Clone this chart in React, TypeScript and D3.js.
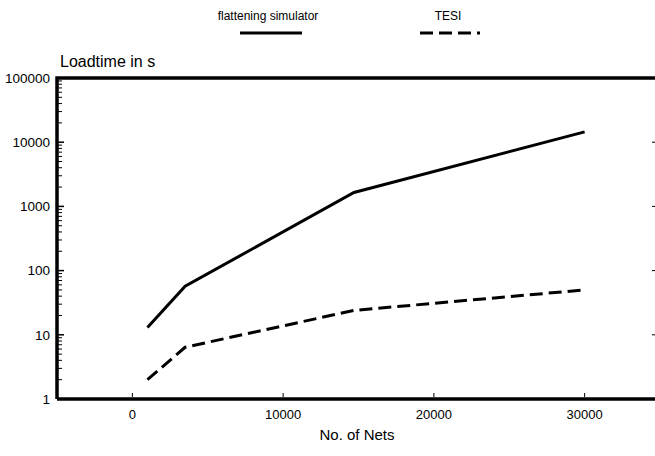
import React, { useEffect, useRef } from "react";
import * as d3 from "d3";

// No. of Nets (x) for both series
const nets = [1000, 3500, 14700, 30000];
// Loadtime in s
const flattening = [13, 57, 1650, 14500];
const tesi = [2, 6.4, 24, 50];

const xTicks = [0, 10000, 20000, 30000];
const yTicks = [1, 10, 100, 1000, 10000, 100000];

const seriesNames = ["flattening simulator", "TESI"];

export default function App() {
  const ref = useRef<SVGSVGElement>(null);

  useEffect(() => {
    const svg = d3.select(ref.current);
    svg.selectAll("*").remove();

    const font = "'Liberation Sans', Arial, sans-serif";

    const x = d3.scaleLinear().domain([-5000, 35000]).range([57, 660]);
    const y = d3.scaleLog().domain([1, 100000]).range([399, 78]);

    // minor log ticks on the left axis (pointing inward)
    const minor: number[] = [];
    for (let d = 1; d < 100000; d *= 10) {
      for (let k = 2; k <= 9; k++) minor.push(d * k);
    }
    svg
      .append("g")
      .selectAll("line")
      .data(minor)
      .enter()
      .append("line")
      .attr("x1", x(-5000))
      .attr("x2", x(-5000) + 5)
      .attr("y1", d => y(d))
      .attr("y2", d => y(d))
      .attr("stroke", "#000")
      .attr("stroke-width", 1);

    svg
      .append("g")
      .selectAll("line")
      .data(yTicks)
      .enter()
      .append("line")
      .attr("x1", x(-5000))
      .attr("x2", x(-5000) + 7)
      .attr("y1", d => y(d))
      .attr("y2", d => y(d))
      .attr("stroke", "#000")
      .attr("stroke-width", 1.5);

    // right side decade ticks (edge of the frame)
    svg
      .append("g")
      .selectAll("line")
      .data(yTicks.slice(1, 5))
      .enter()
      .append("line")
      .attr("x1", 652)
      .attr("x2", 656)
      .attr("y1", d => y(d))
      .attr("y2", d => y(d))
      .attr("stroke", "#000")
      .attr("stroke-width", 1);

    // y tick labels
    svg
      .append("g")
      .selectAll("text")
      .data(yTicks)
      .enter()
      .append("text")
      .attr("x", 50)
      .attr("y", d => y(d))
      .attr("dy", "0.35em")
      .attr("text-anchor", "end")
      .attr("font-family", font)
      .attr("font-size", 13.5)
      .text(d => String(d));

    // x ticks (small, inward)
    svg
      .append("g")
      .selectAll("line")
      .data(xTicks)
      .enter()
      .append("line")
      .attr("x1", d => x(d))
      .attr("x2", d => x(d))
      .attr("y1", 393)
      .attr("y2", 397)
      .attr("stroke", "#000")
      .attr("stroke-width", 1);

    svg
      .append("g")
      .selectAll("text")
      .data(xTicks)
      .enter()
      .append("text")
      .attr("x", d => x(d))
      .attr("y", 414)
      .attr("dy", "0.35em")
      .attr("text-anchor", "middle")
      .attr("font-family", font)
      .attr("font-size", 13)
      .text(d => String(d));

    // frame: top, left, bottom
    svg
      .append("path")
      .attr("d", `M${x(-5000)},${y(1)}V${y(100000)}H660`)
      .attr("fill", "none")
      .attr("stroke", "#000")
      .attr("stroke-width", 3.5);
    svg
      .append("line")
      .attr("x1", x(-5000))
      .attr("x2", 660)
      .attr("y1", y(1))
      .attr("y2", y(1))
      .attr("stroke", "#000")
      .attr("stroke-width", 3.5);

    // series
    const line = d3
      .line<number>()
      .x((_, i) => x(nets[i]))
      .y(d => y(d));

    svg
      .append("path")
      .attr("d", line(flattening))
      .attr("fill", "none")
      .attr("stroke", "#000")
      .attr("stroke-width", 3);

    svg
      .append("path")
      .attr("d", line(tesi))
      .attr("fill", "none")
      .attr("stroke", "#000")
      .attr("stroke-width", 3)
      .attr("stroke-dasharray", "13,6");

    // axis titles
    svg
      .append("text")
      .attr("x", 60)
      .attr("y", 67)
      .attr("font-family", font)
      .attr("font-size", 16)
      .text("Loadtime in s");

    svg
      .append("text")
      .attr("x", 357)
      .attr("y", 440)
      .attr("text-anchor", "middle")
      .attr("font-family", font)
      .attr("font-size", 15)
      .text("No. of Nets");

    // legend
    const legend = svg.append("g");
    legend
      .append("text")
      .attr("x", 268)
      .attr("y", 20)
      .attr("text-anchor", "middle")
      .attr("font-family", font)
      .attr("font-size", 12)
      .text(seriesNames[0]);
    legend
      .append("line")
      .attr("x1", 240)
      .attr("x2", 302)
      .attr("y1", 33)
      .attr("y2", 33)
      .attr("stroke", "#000")
      .attr("stroke-width", 3);
    legend
      .append("text")
      .attr("x", 448)
      .attr("y", 20)
      .attr("text-anchor", "middle")
      .attr("font-family", font)
      .attr("font-size", 12)
      .text(seriesNames[1]);
    legend
      .append("line")
      .attr("x1", 420)
      .attr("x2", 483)
      .attr("y1", 33)
      .attr("y2", 33)
      .attr("stroke", "#000")
      .attr("stroke-width", 3)
      .attr("stroke-dasharray", "13,6,13,6,13,6,3,6");
  }, []);

  return (
    <svg
      ref={ref}
      width={655}
      height={456}
      style={{ position: "absolute", left: 0, top: 0, background: "#fff" }}
    />
  );
}
